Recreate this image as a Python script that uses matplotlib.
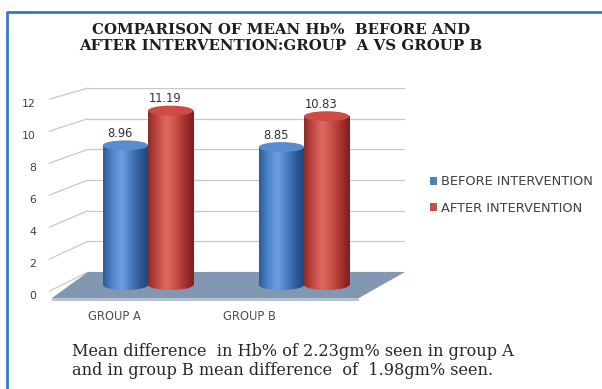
import numpy as np
import matplotlib
matplotlib.use("Agg")
import matplotlib.pyplot as plt
from matplotlib.patches import Ellipse, Polygon, Patch
from matplotlib.lines import Line2D
from matplotlib.colors import LinearSegmentedColormap

groups = ["GROUP A", "GROUP B"]
series = ["BEFORE INTERVENTION", "AFTER INTERVENTION"]
before = [8.96, 8.85]
after = [11.19, 10.83]
yticks = [0, 2, 4, 6, 8, 10, 12]

title = "COMPARISON OF MEAN Hb%  BEFORE AND\nAFTER INTERVENTION:GROUP  A VS GROUP B"
note = ("Mean difference  in Hb% of 2.23gm% seen in group A\n"
        "and in group B mean difference  of  1.98gm% seen.")

W, H = 602, 389
fig = plt.figure(figsize=(W / 100, H / 100), dpi=100)
fig.patch.set_facecolor("white")


def plane(x0, x1, y0, y12, z):
    # axes placed in pixel box: x0..x1, y0 = image row of 0, y12 = image row of 12
    ax = fig.add_axes([x0 / W, 1 - y0 / H, (x1 - x0) / W, (y0 - y12) / H], zorder=z)
    ax.patch.set_alpha(0)
    for s in ax.spines.values():
        s.set_visible(False)
    return ax


back = plane(88, 405, 272, 88, 0)
front = plane(47, 317, 295, 103, 1)
mid = plane(70, 382, 285, 98, 2)
back.set_axis_off()
mid.set_axis_off()

# front plane: tick labels only
front.set_yticks(yticks)
front.set_xticks(range(len(groups)))
front.set_xticklabels(groups)
front.tick_params(axis="y", length=0, pad=8, labelsize=7.8, labelcolor="#404040")
front.tick_params(axis="x", length=0, pad=11, labelsize=8.3, labelcolor="#505050")

to_fig = fig.transFigure.inverted()


def fig_pt(ax, x, y):
    return to_fig.transform(ax.transData.transform((x, y)))


for ax in (back, front, mid):
    ax.set_xlim(-0.5, 1.5)
    ax.set_ylim(0, 12)

# back wall gridlines and side-wall lines
for v in yticks:
    back.plot([-0.5, 1.5], [v, v], color="#c8c8c8", lw=0.9, zorder=1)
    p0 = fig_pt(front, -0.5, v)
    p1 = fig_pt(back, -0.5, v)
    fig.add_artist(Line2D([p0[0] + 0.004, p1[0]], [p0[1] + 0.01, p1[1]],
                          color="#c8c8c8", lw=0.9, zorder=-2))

# floor: back edge from back plane, front edge mirrored through mid plane
bl, br = fig_pt(back, -0.5, 0), fig_pt(back, 1.5, 0)
ml, mr = fig_pt(mid, -0.5, 0), fig_pt(mid, 1.5, 0)
fl, fr = 2 * ml - bl, 2 * mr - br
strip = np.array([0, 3 / H])
fig.add_artist(Polygon([fl, fr, fr - strip, fl - strip], closed=True,
                       facecolor="#b8c4d3", edgecolor="none", zorder=-1))
fig.add_artist(Polygon([fl, fr, br, bl], closed=True,
                       facecolor="#8297b1", edgecolor="none", zorder=-1))

blue_cm = LinearSegmentedColormap.from_list(
    "b", ["#2d5b99", "#4f86cc", "#6e9fde", "#4a7dc2", "#2f5d9b", "#1f4478"])
red_cm = LinearSegmentedColormap.from_list(
    "r", ["#8f2b28", "#c44a45", "#df6a62", "#c9504b", "#a8322f", "#7a2020"])
grad = np.linspace(0, 1, 64).reshape(1, -1)

bw = 0.29
cap_h = 0.64
for vals, off, cm, cap, name in [(before, -0.145, blue_cm, "#5a8ad0", series[0]),
                                 (after, 0.145, red_cm, "#cf4b45", series[1])]:
    xs = np.arange(len(groups)) + off
    bars = mid.bar(xs, vals, width=bw, color="none", edgecolor="none", zorder=3)
    for rect, x, v in zip(bars, xs, vals):
        x0, x1 = x - bw / 2, x + bw / 2
        bot = Ellipse((x, 0), bw, cap_h, transform=mid.transData)
        for clip in (rect, bot):
            im = mid.imshow(grad, cmap=cm, extent=[x0, x1, -cap_h, v], aspect="auto",
                            interpolation="bilinear", zorder=3)
            im.set_clip_box(fig.bbox)
            im.set_clip_path(clip)
        mid.add_patch(Ellipse((x, v), bw, cap_h, facecolor=cap, edgecolor="none",
                              zorder=4))
        mid.annotate(f"{v:.2f}", (x, v), xytext=(-4, 4), textcoords="offset points",
                     ha="center", va="bottom", fontsize=8.3, color="#303030", zorder=5)
for ax in (back, front, mid):
    ax.set_xlim(-0.5, 1.5)
    ax.set_ylim(0, 12)

handles = [Patch(facecolor="#4f81bd", label=series[0]),
           Patch(facecolor="#c0504d", label=series[1])]
fig.legend(handles=handles, loc="center left", bbox_to_anchor=(418 / W, 1 - 195 / H),
           frameon=False, fontsize=9.4, handlelength=0.55, handleheight=0.55,
           handletextpad=0.3, labelspacing=1.0, labelcolor="#404040")

fig.text(281 / W, 1 - 38 / H, title, ha="center", va="center", fontsize=10.8,
         fontweight="bold", family="DejaVu Serif", color="#1e1e1e", linespacing=1.15)
fig.text(72 / W, 1 - 361 / H, note, ha="left", va="center", fontsize=11.6,
         family="DejaVu Serif", color="#262626", linespacing=1.12)

# blue frame on top and left
fig.add_artist(Line2D([7 / W, 7 / W, 1], [0, 1 - 12 / H, 1 - 12 / H],
                      color="#3a78c3", lw=2, zorder=10))

fig.savefig("out.png", dpi=100)
